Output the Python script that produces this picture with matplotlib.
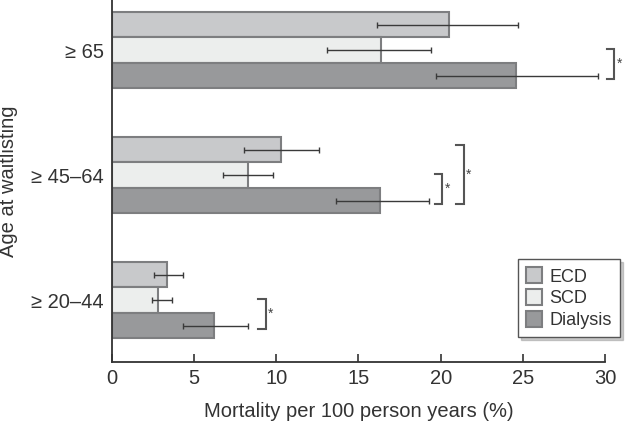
import numpy as np
import matplotlib
matplotlib.use("Agg")
import matplotlib.pyplot as plt

plt.rcParams['font.family'] = ['Liberation Sans', 'DejaVu Sans']

groups = ['\u2265 20\u201344', '\u2265 45\u201364', '\u2265 65']
series = ['ECD', 'SCD', 'Dialysis']

# mortality per 100 person years, order: 20-44, 45-64, >=65
ecd = [3.37, 10.3, 20.5]
scd = [2.8, 8.3, 16.4]
dialysis = [6.23, 16.3, 24.6]

ecd_lo = [2.56, 8.03, 16.1]
ecd_hi = [4.34, 12.6, 24.7]
scd_lo = [2.41, 6.74, 13.1]
scd_hi = [3.63, 9.8, 19.4]
dia_lo = [4.34, 13.65, 19.7]
dia_hi = [8.26, 19.3, 29.6]

colors = ['#c8c9cb', '#eceeed', '#98999b']
edge = '#7d7e80'

fig = plt.figure(figsize=(6.43, 4.21), dpi=100)
ax = fig.add_axes([0.174, 0.140, 0.767, 0.860])

y = np.arange(len(groups))
h = 0.204
offsets = [h, 0, -h]
vals = [ecd, scd, dialysis]
los = [ecd_lo, scd_lo, dia_lo]
his = [ecd_hi, scd_hi, dia_hi]

for k in range(3):
    v = np.array(vals[k])
    ax.barh(y + offsets[k], v, height=h, color=colors[k], edgecolor=edge,
            linewidth=1.5, label=series[k], zorder=2)
    err = [v - np.array(los[k]), np.array(his[k]) - v]
    ax.errorbar(v, y + offsets[k], xerr=err, fmt='none', ecolor='#3a3a3a',
                elinewidth=1.0, capsize=2.5, capthick=1.0, zorder=3)

# significance brackets: (group, top bar, bottom bar, x position)
brackets = [(2, 1, 2, 30.1), (1, 1, 2, 19.65), (1, 0, 2, 20.95), (0, 1, 2, 8.9)]
for g, b1, b2, bx in brackets:
    y1 = g + offsets[b1] + 0.01 + (0.03 if b1 == 0 else 0)
    y2 = g + offsets[b2] - 0.03
    w = 0.45
    ax.plot([bx, bx + w, bx + w, bx], [y1, y1, y2, y2], color='#555555',
            lw=1.5, clip_on=False, solid_joinstyle='miter', zorder=4)
    ax.text(bx + w + 0.15, (y1 + y2) / 2, '*', fontsize=10, color='#444444',
            ha='left', va='center', clip_on=False)

ax.set_xlim(0, 30)
ax.set_ylim(-0.496, 2.4)
ax.set_xticks(range(0, 31, 5))
ax.set_yticks(y)
ax.set_yticklabels(groups)
ax.tick_params(axis='x', direction='in', length=6, width=1.2, color='#333333',
               labelsize=14.5, pad=5, labelcolor='#333333')
ax.tick_params(axis='y', length=0, labelsize=14.5, pad=6, labelcolor='#333333')
for s in ['top', 'right']:
    ax.spines[s].set_visible(False)
for s in ['left', 'bottom']:
    ax.spines[s].set_linewidth(1.3)
    ax.spines[s].set_color('#333333')

ax.set_xlabel('Mortality per 100 person years (%)', fontsize=14.5, color='#333333', labelpad=10)
ax.set_ylabel('Age at waitlisting', fontsize=14.5, color='#333333', labelpad=9)

leg = ax.legend(loc='lower right', bbox_to_anchor=(1.03, 0.068), fontsize=13,
                frameon=True, fancybox=False, shadow={'color': '0.6'},
                handlelength=0.9, handleheight=1.0, handletextpad=0.4,
                labelspacing=0.2, borderpad=0.45, borderaxespad=0)
leg.get_frame().set_edgecolor('#555555')
leg.get_frame().set_linewidth(1.0)
for t in leg.get_texts():
    t.set_color('#333333')

fig.savefig('out.png', dpi=100)
